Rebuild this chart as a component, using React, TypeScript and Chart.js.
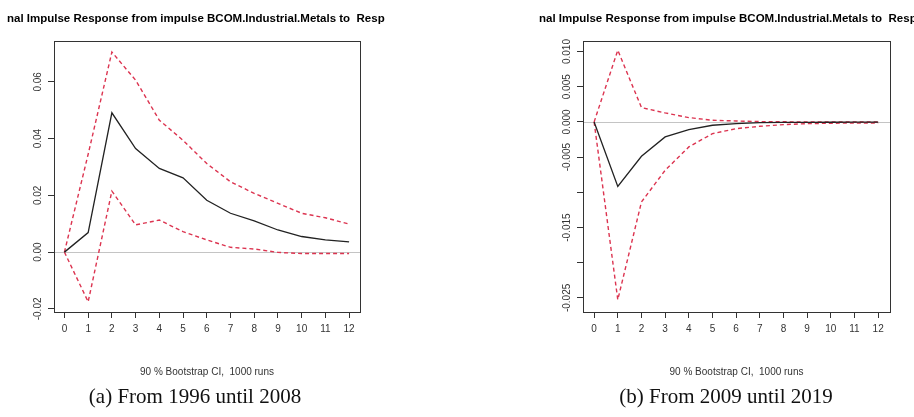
import React, { useEffect, useRef } from "react";
import { Chart, registerables } from "chart.js";

Chart.register(...registerables);

// ---------- data ----------
const HORIZONS = [0, 1, 2, 3, 4, 5, 6, 7, 8, 9, 10, 11, 12];
const PLOT_TITLE = "nal Impulse Response from impulse BCOM.Industrial.Metals to  Resp";
const X_TITLE = "90 % Bootstrap CI,  1000 runs";

// (a) 1996 - 2008
const A_IRF = [0, 0.0069, 0.0491, 0.0365, 0.0295, 0.0262, 0.0183, 0.0137, 0.0110, 0.0078, 0.0055, 0.0043, 0.0036];
const A_UPPER = [0, 0.0345, 0.0705, 0.0606, 0.0465, 0.0394, 0.0312, 0.0248, 0.0207, 0.0172, 0.0137, 0.0121, 0.0099];
const A_LOWER = [0, -0.0175, 0.0215, 0.0096, 0.0113, 0.0072, 0.0043, 0.0017, 0.0011, -0.0001, -0.0005, -0.0005, -0.0005];
const A_Y_TICKS = [-0.02, 0, 0.02, 0.04, 0.06];
const A_Y_LABELS = ["-0.02", "0.00", "0.02", "0.04", "0.06"];
const A_CAPTION = "(a) From 1996 until 2008";

// (b) 2009 - 2019
const B_IRF = [0, -0.00915, -0.00488, -0.00213, -0.00109, -0.00047, -0.00024, -0.0001, -0.00007, -0.00005, -0.00004, -0.00003, -0.00003];
const B_UPPER = [0, 0.01019, 0.00204, 0.00128, 0.00062, 0.00024, 0.00014, 0.00005, 0.00002, 0.00001, 0, 0, 0];
const B_LOWER = [0, -0.02526, -0.01137, -0.00687, -0.00355, -0.00166, -0.00095, -0.00062, -0.00038, -0.00024, -0.00019, -0.00014, -0.00014];
const B_Y_TICKS = [-0.025, -0.02, -0.015, -0.01, -0.005, 0, 0.005, 0.01];
const B_Y_LABELS = ["-0.025", "", "-0.015", "", "-0.005", "0.000", "0.005", "0.010"];
const B_CAPTION = "(b) From 2009 until 2019";

// ---------- styling ----------
const FONT = "'Liberation Sans', Arial, Helvetica, sans-serif";
const SERIF = "'Liberation Serif', 'Times New Roman', serif";
const RED = "#dc3450";
const BLACK = "#222222";
const AXIS = "#333333";

const framePlugin = {
  id: "frame",
  beforeDatasetsDraw(chart: any) {
    const { ctx, chartArea: a, scales } = chart;
    const y0 = Math.round(scales.y.getPixelForValue(0)) + 0.5;
    ctx.save();
    ctx.strokeStyle = "#c4c4c4";
    ctx.lineWidth = 1;
    ctx.beginPath();
    ctx.moveTo(a.left, y0);
    ctx.lineTo(a.right, y0);
    ctx.stroke();
    ctx.restore();
  },
  afterDraw(chart: any) {
    const { ctx, chartArea: a } = chart;
    ctx.save();
    ctx.strokeStyle = AXIS;
    ctx.lineWidth = 1;
    const l = Math.round(a.left) + 0.5;
    const t = Math.round(a.top) + 0.5;
    const r = Math.round(a.right) + 0.5;
    const b = Math.round(a.bottom) + 0.5;
    ctx.strokeRect(l, t, r - l, b - t);
    ctx.restore();
  },
};

type Spec = {
  left: number;
  width: number;
  padLeft: number;
  yAxisWidth: number;
  rightWidth: number;
  xMin: number;
  xMax: number;
  yMin: number;
  yMax: number;
  yTickPad: number;
  irf: number[];
  upper: number[];
  lower: number[];
  yTicks: number[];
  yLabels: string[];
  caption: string;
  captionLeft: number;
  captionWidth: number;
};

const SPECS: Spec[] = [
  {
    left: 0, width: 457, padLeft: 7, yAxisWidth: 47, rightWidth: 97,
    xMin: -0.44, xMax: 12.46, yMin: -0.0211, yMax: 0.0744, yTickPad: -1.4,
    irf: A_IRF, upper: A_UPPER, lower: A_LOWER, yTicks: A_Y_TICKS, yLabels: A_Y_LABELS,
    caption: A_CAPTION, captionLeft: 7, captionWidth: 376,
  },
  {
    left: 457, width: 500, padLeft: 82, yAxisWidth: 44, rightWidth: 67,
    xMin: -0.47, xMax: 12.5, yMin: -0.027, yMax: 0.0115, yTickPad: -4.2,
    irf: B_IRF, upper: B_UPPER, lower: B_LOWER, yTicks: B_Y_TICKS, yLabels: B_Y_LABELS,
    caption: B_CAPTION, captionLeft: 539, captionWidth: 374,
  },
];

function series(values: number[]) {
  return HORIZONS.map((h, i) => ({ x: h, y: values[i] }));
}

function buildConfig(s: Spec): any {
  const lineBase = { pointRadius: 0, fill: false, tension: 0 };
  return {
    type: "line",
    data: {
      datasets: [
        { ...lineBase, label: "irf", data: series(s.irf), borderColor: BLACK, borderWidth: 1.3 },
        { ...lineBase, label: "upper", data: series(s.upper), borderColor: RED, borderWidth: 1.4, borderDash: [4, 3] },
        { ...lineBase, label: "lower", data: series(s.lower), borderColor: RED, borderWidth: 1.4, borderDash: [4, 3] },
      ],
    },
    options: {
      animation: false,
      responsive: false,
      devicePixelRatio: 1,
      layout: { padding: { left: s.padLeft, right: 0, top: 0, bottom: 0 } },
      plugins: {
        legend: { display: false },
        tooltip: { enabled: false },
        title: {
          display: true,
          text: PLOT_TITLE,
          align: "start",
          color: "#000",
          font: { family: FONT, size: 11.5, weight: "bold", lineHeight: 1.2 },
          padding: { top: 12.1, bottom: 15.1 },
        },
      },
      scales: {
        x: {
          type: "linear",
          min: s.xMin,
          max: s.xMax,
          afterBuildTicks: (sc: any) => {
            sc.ticks = HORIZONS.map((v) => ({ value: v }));
          },
          afterFit: (sc: any) => {
            sc.height = 105;
          },
          ticks: {
            autoSkip: false,
            minRotation: 0,
            maxRotation: 0,
            padding: 5,
            color: AXIS,
            font: { family: FONT, size: 10 },
            callback: (v: any) => String(v),
          },
          grid: { display: true, drawOnChartArea: false, drawTicks: true, tickLength: 6, color: AXIS, lineWidth: 1 },
          border: { display: false },
          title: {
            display: true,
            text: X_TITLE,
            color: AXIS,
            font: { family: FONT, size: 10, lineHeight: 1.2 },
            padding: { top: 0, bottom: 39 },
          },
        },
        y: {
          type: "linear",
          position: "left",
          min: s.yMin,
          max: s.yMax,
          afterBuildTicks: (sc: any) => {
            sc.ticks = s.yTicks.map((v) => ({ value: v }));
          },
          afterFit: (sc: any) => {
            sc.width = s.yAxisWidth;
          },
          ticks: {
            autoSkip: false,
            minRotation: 90,
            maxRotation: 90,
            crossAlign: "center",
            padding: s.yTickPad,
            color: AXIS,
            font: { family: FONT, size: 10 },
            callback: (_v: any, i: number) => s.yLabels[i],
          },
          grid: { display: true, drawOnChartArea: false, drawTicks: true, tickLength: 6, color: AXIS, lineWidth: 1 },
          border: { display: false },
        },
        r: {
          type: "linear",
          position: "right",
          display: true,
          grid: { display: false, drawTicks: false },
          ticks: { display: false },
          border: { display: false },
          afterFit: (sc: any) => {
            sc.width = s.rightWidth;
          },
        },
      },
    },
    plugins: [framePlugin],
  };
}

function Panel({ spec }: { spec: Spec }) {
  const ref = useRef<HTMLCanvasElement>(null);
  useEffect(() => {
    const chart = new Chart(ref.current as HTMLCanvasElement, buildConfig(spec));
    return () => chart.destroy();
  }, [spec]);
  return (
    <>
      <div style={{ position: "absolute", left: spec.left, top: 0, width: spec.width, height: 417 }}>
        <canvas ref={ref} width={spec.width} height={417} style={{ display: "block" }} />
      </div>
      <div
        style={{
          position: "absolute",
          left: spec.captionLeft,
          top: 385,
          width: spec.captionWidth,
          textAlign: "center",
          fontFamily: SERIF,
          fontSize: 21,
          lineHeight: "22px",
          color: "#111",
          whiteSpace: "nowrap",
        }}
      >
        {spec.caption}
      </div>
    </>
  );
}

export default function App() {
  return (
    <div
      style={{
        position: "absolute",
        left: 0,
        top: 0,
        width: 914,
        height: 417,
        overflow: "hidden",
        background: "#fff",
      }}
    >
      {SPECS.map((s, i) => (
        <Panel key={i} spec={s} />
      ))}
    </div>
  );
}
